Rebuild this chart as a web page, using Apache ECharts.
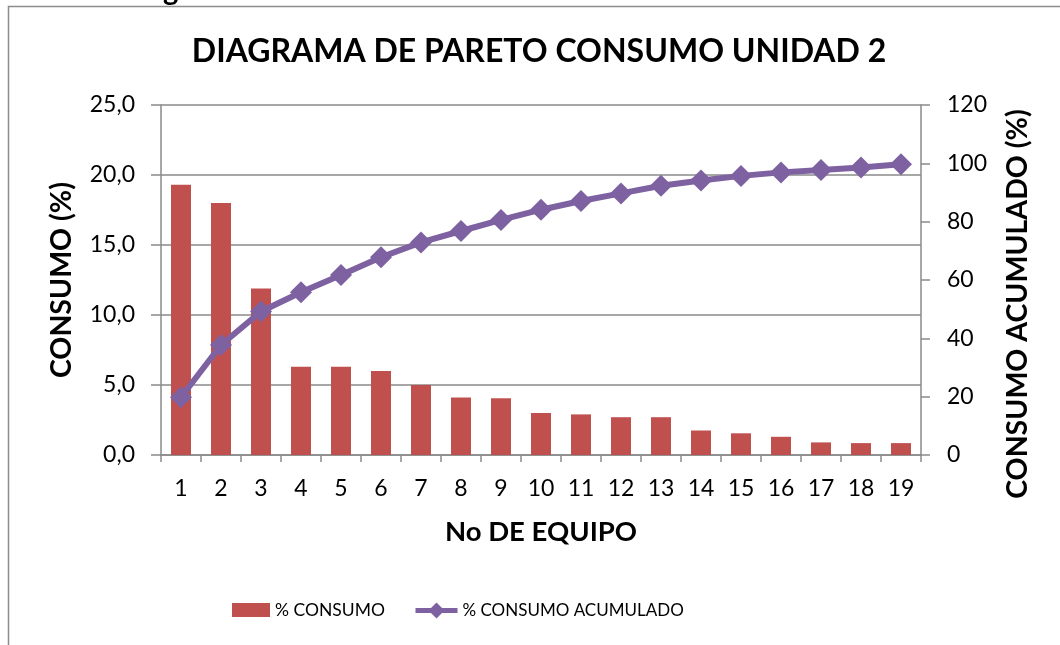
<!DOCTYPE html>
<html>
<head>
<meta charset="utf-8">
<script src="https://cdn.jsdelivr.net/npm/echarts@6/dist/echarts.min.js"></script>
<style>
html,body{margin:0;padding:0;background:#fff;}
#c{width:1060px;height:645px;}
</style>
</head>
<body>
<div id="c"></div>
<script>
const categories = ['1','2','3','4','5','6','7','8','9','10','11','12','13','14','15','16','17','18','19'];
const consumo = [19.3, 18.0, 11.9, 6.3, 6.3, 6.0, 5.0, 4.1, 4.05, 3.0, 2.9, 2.7, 2.7, 1.75, 1.55, 1.3, 0.9, 0.85, 0.85];
const acumulado = [19.8, 37.7, 49.2, 55.8, 61.7, 67.8, 72.9, 76.8, 80.6, 84.1, 87.1, 89.7, 92.3, 94.1, 95.7, 96.9, 97.7, 98.6, 99.7];
const leftTicks = [0, 25, 5];
const rightTicks = [0, 120, 20];

const FONT = 'Lato';
const chart = echarts.init(document.getElementById('c'), null, {renderer: 'canvas'});
const gray = '#8a8a8a';
const barColor = '#C0504D';
const lineColor = '#7E61A1';
chart.setOption({
  backgroundColor: '#fff',
  animation: false,
  textStyle: {fontFamily: FONT, color: '#000'},
  title: {
    text: 'DIAGRAMA DE PARETO CONSUMO UNIDAD 2',
    left: 534, top: 31, textAlign: 'center',
    textStyle: {fontFamily: FONT, fontWeight: 'bold', fontSize: 32, color: '#000'}
  },
  graphic: [
    {type: 'rect', shape: {x: 8.5, y: 6.5, width: 1200, height: 800}, style: {fill: 'none', stroke: '#8c8c8c', lineWidth: 1.5}, z: 0},
    {type: 'text', left: 163, top: -24, style: {text: 'g', font: 'bold 29px Lato', fill: '#000'}, z: 1},
    {type: 'text', x: 1018, y: 304, rotation: Math.PI / 2,
     style: {text: 'CONSUMO ACUMULADO (%)', font: 'bold 28.5px Lato', fill: '#000', align: 'center', verticalAlign: 'middle'}, z: 5}
  ],
  legend: [
    {
      left: 227, top: 596,
      itemWidth: 38, itemHeight: 14,
      textStyle: {fontFamily: FONT, fontSize: 17.5, color: '#000'},
      data: [{name: '% CONSUMO', icon: 'rect'}]
    },
    {
      left: 408, top: 597,
      itemWidth: 42, itemHeight: 20,
      lineStyle: {width: 5},
      textStyle: {fontFamily: FONT, fontSize: 17, color: '#000'},
      data: [{name: '% CONSUMO ACUMULADO'}]
    }
  ],
  grid: {left: 161, right: 139, top: 105, bottom: 190, containLabel: false},
  xAxis: {
    type: 'category', data: categories,
    name: 'No DE EQUIPO', nameLocation: 'middle', nameGap: 63,
    nameTextStyle: {fontFamily: FONT, fontWeight: 'bold', fontSize: 27.5, color: '#000'},
    axisLine: {lineStyle: {color: gray, width: 1.5}},
    axisTick: {show: true, alignWithLabel: false, length: 7, lineStyle: {color: gray, width: 1.5}},
    axisLabel: {fontFamily: FONT, fontSize: 23, color: '#000', margin: 22}
  },
  yAxis: [
    {
      type: 'value', min: leftTicks[0], max: leftTicks[1], interval: leftTicks[2],
      name: 'CONSUMO (%)', nameLocation: 'middle', nameGap: 85, nameRotate: 90,
      nameTextStyle: {fontFamily: FONT, fontWeight: 'bold', fontSize: 28.5, color: '#000'},
      axisLine: {show: true, lineStyle: {color: gray, width: 1.5}},
      axisTick: {show: true, length: 10, lineStyle: {color: gray, width: 1.5}},
      axisLabel: {fontFamily: FONT, fontSize: 23, color: '#000', margin: 26,
        formatter: v => v.toFixed(1).replace('.', ',')},
      splitLine: {show: true, lineStyle: {color: gray, width: 1.5}}
    },
    {
      type: 'value', min: rightTicks[0], max: rightTicks[1], interval: rightTicks[2],
      axisLine: {show: true, lineStyle: {color: gray, width: 1.5}},
      axisTick: {show: true, length: 9, lineStyle: {color: gray, width: 1.5}},
      axisLabel: {fontFamily: FONT, fontSize: 23, color: '#000', margin: 26},
      splitLine: {show: false}
    }
  ],
  series: [
    {
      name: '% CONSUMO', type: 'bar', data: consumo, barWidth: '50%',
      itemStyle: {color: barColor}
    },
    {
      name: '% CONSUMO ACUMULADO', type: 'line', yAxisIndex: 1, data: acumulado,
      symbol: 'diamond', symbolSize: 22,
      lineStyle: {color: lineColor, width: 6},
      itemStyle: {color: lineColor}
    }
  ]
});
</script>
</body>
</html>
